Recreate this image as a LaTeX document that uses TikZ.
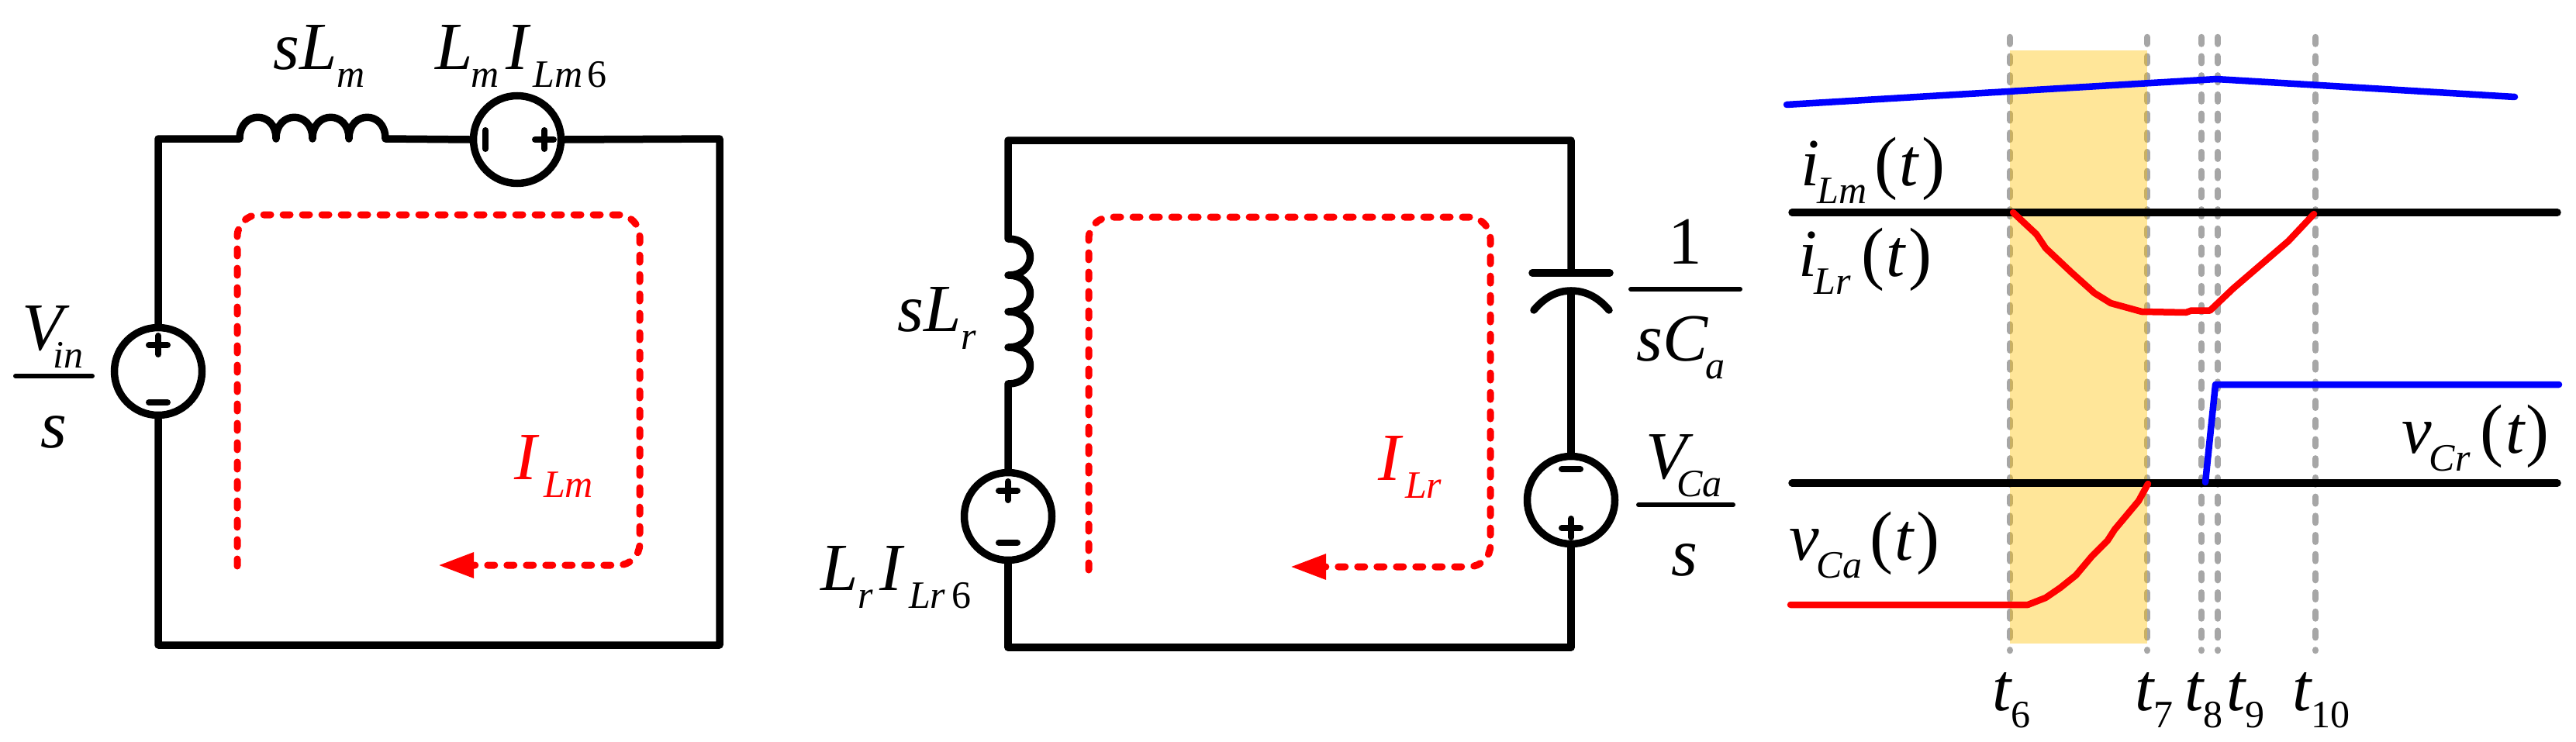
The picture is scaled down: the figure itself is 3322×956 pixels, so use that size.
\documentclass[tikz,border=0pt]{standalone}
\usepackage{fontspec}
\setmainfont{Liberation Serif}
\usetikzlibrary{arrows.meta}
\newcommand\subt[1]{\raisebox{-23pt}{\fontsize{50}{50}\selectfont #1}}
\newcommand\up[1]{\textup{#1}}
\newcommand\plo{\textup{\fontsize{90}{90}\selectfont(}}
\newcommand\prc{\textup{\fontsize{90}{90}\selectfont)}}
\definecolor{bandcolor}{HTML}{FFC000}
\definecolor{guide}{HTML}{A6A6A6}
\tikzset{
  wire/.style={line width=9.5pt,line cap=round,line join=round,black},
  source/.style={circle,draw,line width=9.5pt,minimum size=113pt,inner sep=0pt},
  sign/.style={line width=8pt,line cap=round,black},
  loopline/.style={line width=9pt,red,line cap=round,dash pattern=on 9pt off 16pt,rounded corners=28pt,
     -{Triangle[length=46pt,width=31pt]}},
  lbl/.style={anchor=base west,inner sep=0pt,font=\fontsize{87}{87}\selectfont\itshape},
  barline/.style={line width=6pt,black,line cap=round},
  guideline/.style={line width=8.5pt,guide,line cap=round,dash pattern=on 8.5pt off 16.2pt},
  wave/.style={line width=8.5pt,line cap=round,line join=round},
  axisline/.style={line width=9.5pt,line cap=round,black}
}
\begin{document}
\begin{tikzpicture}[x=1pt,y=-1pt]
\useasboundingbox (0,0) rectangle (3322,956);
% ---------- left circuit ----------
\node[source] (vin) at (204,479) {};
\node[source] (lmi) at (667,180) {};
\coordinate (tl1) at (204,179);
\coordinate (tr1) at (928,179);
\coordinate (br1) at (928,832);
\coordinate (bl1) at (204,832);
\coordinate (la) at (309,179);
\coordinate (lb) at (497,179);
\draw[wire] (vin.north) -- (tl1) -- (la)
  .. controls +(0,-37) and +(0,-37) .. ++(47,0)
  .. controls +(0,-37) and +(0,-37) .. ++(47,0)
  .. controls +(0,-37) and +(0,-37) .. ++(47,0)
  .. controls +(0,-37) and +(0,-37) .. (lb) -- (lmi.west);
\draw[wire] (lmi.east) -- (tr1) -- (br1) -- (bl1) -- (vin.south);
\draw[sign] ([yshift=34pt]vin.center) ++(-12,0) -- ++(24,0);
\draw[sign] ([yshift=34pt]vin.center) ++(0,-12) -- ++(0,24);
\draw[sign] ([yshift=-40pt]vin.center) ++(-12,0) -- ++(24,0);
\draw[sign] ([xshift=-41pt]lmi.center) ++(0,-12) -- ++(0,24);
\draw[sign] ([xshift=35pt]lmi.center) ++(-12,0) -- ++(24,0);
\draw[sign] ([xshift=35pt]lmi.center) ++(0,-12) -- ++(0,24);
\coordinate (r1a) at (306,730);
\coordinate (r1b) at (306,277);
\coordinate (r1c) at (825,277);
\coordinate (r1d) at (825,729);
\coordinate (r1e) at (565,729);
\draw[loopline] (r1a) -- (r1b) -- (r1c) -- (r1d) -- (r1e);
\node[lbl] (sLm) at (352,89) {sL\subt{m}};
\node[lbl] (LmI) at (561,89) {L\kern-2pt\subt{m}\kern9pt I\kern6pt\subt{Lm\kern6pt\up{6}}};
\node[lbl] (vintop) at (28,451) {V\kern-13pt\subt{in}};
\node[lbl,anchor=base] (vinbot) at (69,577) {s};
\draw[barline] (20,485) -- (119,485);
\node[lbl,text=red] (ilm) at (663,618) {I\kern9pt\subt{Lm}};
% ---------- middle circuit ----------
\node[source] (lri) at (1300,666) {};
\node[source] (vca) at (2026,645) {};
\coordinate (tl2) at (1300,181);
\coordinate (tr2) at (2026,181);
\coordinate (br2) at (2026,835);
\coordinate (bl2) at (1300,835);
\coordinate (ra) at (1300,308);
\coordinate (rb) at (1300,495);
\coordinate (capA) at (2026,352);
\coordinate (capB) at (2026,375);
\coordinate (capC) at (1976,352);
\coordinate (capD) at (2076,352);
\coordinate (capE) at (1978,400);
\coordinate (capF) at (2075,400);
\draw[wire] (lri.north) -- (rb)
  .. controls +(38,0) and +(38,0) .. ++(0,-47)
  .. controls +(38,0) and +(38,0) .. ++(0,-46)
  .. controls +(38,0) and +(38,0) .. ++(0,-47)
  .. controls +(38,0) and +(38,0) .. (ra) -- (tl2) -- (tr2) -- (capA);
\draw[wire] (capC) -- (capD);
\draw[wire] (capE) .. controls +(16,-19) and +(-16,0) .. (capB) .. controls +(16,0) and +(-16,-19) .. (capF);
\draw[wire] (capB) -- (vca.north);
\draw[wire] (vca.south) -- (br2) -- (bl2) -- (lri.south);
\draw[sign] ([yshift=33pt]lri.center) ++(-12,0) -- ++(24,0);
\draw[sign] ([yshift=33pt]lri.center) ++(0,-12) -- ++(0,24);
\draw[sign] ([yshift=-34pt]lri.center) ++(-12,0) -- ++(24,0);
\draw[sign] ([yshift=40pt]vca.center) ++(-12,0) -- ++(24,0);
\draw[sign] ([yshift=-36pt]vca.center) ++(-12,0) -- ++(24,0);
\draw[sign] ([yshift=-36pt]vca.center) ++(0,-12) -- ++(0,24);
\coordinate (r2a) at (1404,735);
\coordinate (r2b) at (1404,280);
\coordinate (r2c) at (1922,280);
\coordinate (r2d) at (1922,731);
\coordinate (r2e) at (1664,731);
\draw[loopline] (r2a) -- (r2b) -- (r2c) -- (r2d) -- (r2e);
\node[lbl] (sLr) at (1157,427) {sL\subt{r}};
\node[lbl] (LrI) at (1058,761) {L\subt{r}\kern8pt I\kern9pt\subt{Lr\kern8pt\up{6}}};
\node[lbl,text=red] (ilr) at (1777,619) {I\kern6pt\subt{Lr}};
\node[lbl,anchor=base] (one) at (2173,340) {\up{1}};
\draw[barline] (2103,373) -- (2244,373);
\node[lbl] (sCa) at (2110,465) {sC\kern-3pt\subt{a}};
\node[lbl] (vcatop) at (2122,617) {V\kern-13pt\subt{Ca}};
\draw[barline] (2113,651) -- (2235,651);
\node[lbl,anchor=base] (vcabot) at (2172,742) {s};
% ---------- waveforms ----------
\foreach \x in {2592,2769,2839,2860,2986}
  \draw[guideline] (\x,48) -- (\x,839);
\fill[bandcolor,opacity=0.4] (2592,65) rectangle (2769,830);
\draw[axisline] (2311,274) -- (3298,274);
\draw[axisline] (2311,623) -- (3298,623);
\draw[wave,blue] (2304,135) -- (2858,102) -- (3243,125);
\draw[wave,blue] (2844,622) -- (2857,496) -- (3300,496);
\draw[wave,red] (2596,274) -- (2626,302) -- (2638,320) -- (2672,352) -- (2701,378) -- (2722,391)
  -- (2762,402) -- (2819,403) -- (2826,400.5) -- (2850,400.5) -- (2880,372) -- (2951,311) -- (2984,276);
\draw[wave,red] (2309,780) -- (2615,780) -- (2638,771) -- (2657,758) -- (2677,742) -- (2698,717) -- (2718,697) -- (2727,683) -- (2758,646) -- (2770,624);
\node[lbl] (tiLm) at (2322,239) {i\kern-3pt\subt{Lm}\kern10pt\plo\kern2pt t\kern5pt\prc};
\node[lbl] (tiLr) at (2319,356) {i\kern-4pt\subt{Lr}\kern13.5pt\plo\kern2pt t\kern5pt\prc};
\node[lbl] (tvCa) at (2307,722) {v\kern-3pt\subt{Ca}\kern10.5pt\plo\kern2pt t\kern3.5pt\prc};
\node[lbl] (tvCr) at (3097,584) {v\kern-3pt\subt{Cr}\kern12.5pt\plo\kern3pt t\kern2.5pt\prc};
\node[lbl] (t6) at (2569,916) {t\raisebox{-22pt}{\fontsize{50}{50}\selectfont\up{6}}};
\node[lbl] (t7) at (2753,916) {t\raisebox{-22pt}{\fontsize{50}{50}\selectfont\up{7}}};
\node[lbl] (t8) at (2817,916) {t\raisebox{-22pt}{\fontsize{50}{50}\selectfont\up{8}}};
\node[lbl] (t9) at (2871,916) {t\raisebox{-22pt}{\fontsize{50}{50}\selectfont\up{9}}};
\node[lbl] (t10) at (2956,916) {t\raisebox{-22pt}{\fontsize{50}{50}\selectfont\up{10}}};
\end{tikzpicture}
\end{document}
